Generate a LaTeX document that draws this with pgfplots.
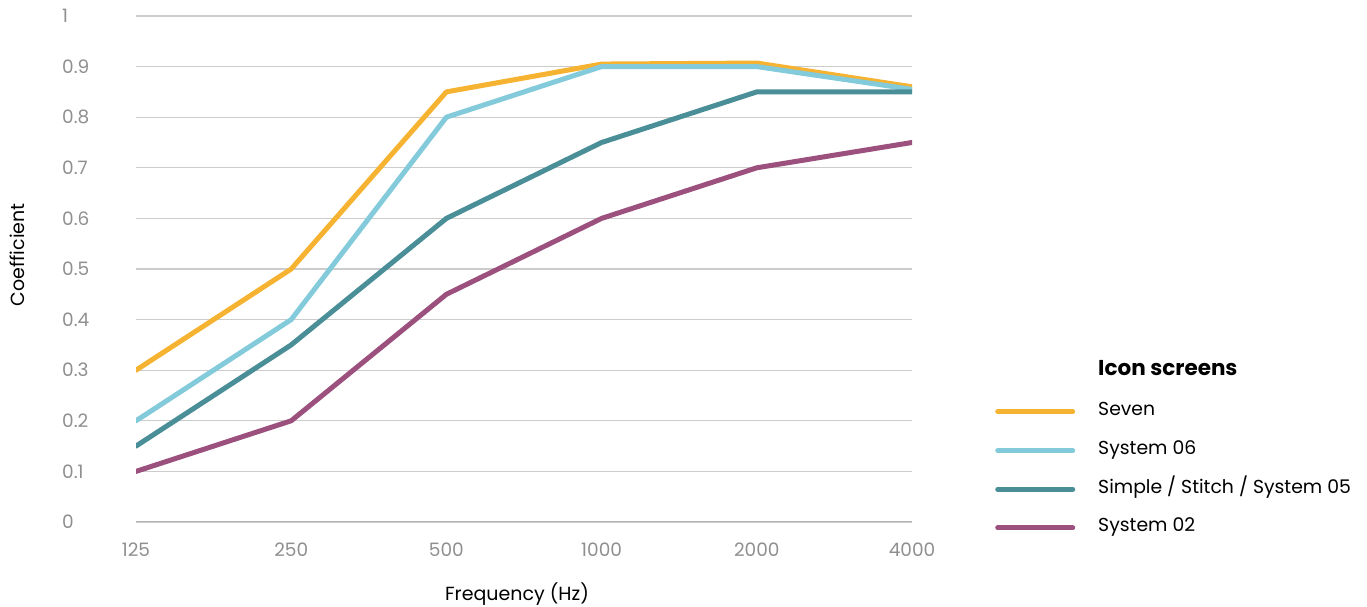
\documentclass[border=0pt]{standalone}
\usepackage{fontspec}
\setmainfont{Poppins}
\usepackage{pgfplots}
\pgfplotsset{compat=1.18}
\definecolor{seven}{HTML}{F6B331}
\definecolor{sys06}{HTML}{83CADB}
\definecolor{sys05}{HTML}{4A8E98}
\definecolor{sys02}{HTML}{9B507E}
\definecolor{ticktxt}{HTML}{8F8F8F}
\definecolor{gridc}{HTML}{CCCCCC}
\definecolor{baseln}{HTML}{AEB2B5}
\begin{document}
\begin{tikzpicture}[x=1pt,y=1pt]
\path[use as bounding box] (0,0) rectangle (1367,607);
\begin{axis}[
  at={(136pt,85pt)}, anchor=south west,
  scale only axis, width=776pt, height=506pt,
  xmin=0, xmax=5, ymin=0, ymax=1,
  axis line style={draw=none},
  major tick length=0pt,
  xtick={0,1,2,3,4,5},
  xticklabels={125,250,500,1000,2000,4000},
  ytick={0,0.1,0.2,0.3,0.4,0.5,0.6,0.7,0.8,0.9,1},
  yticklabels={0,0.1,0.2,0.3,0.4,0.5,0.6,0.7,0.8,0.9,1},
  ymajorgrids, grid style={gridc, line width=1.2pt},
  tick label style={font=\fontsize{18.5}{18.5}\selectfont, text=ticktxt},
  yticklabel style={anchor=west, inner sep=0pt, xshift=-74pt},
  xticklabel style={yshift=-17pt},
  xlabel={Frequency (Hz)}, ylabel={Coefficient},
  label style={font=\fontsize{19}{19}\selectfont},
  xlabel style={at={(axis description cs:0.491,-0.143)}, anchor=center},
  ylabel style={at={(axis description cs:-0.153,0.528)}, anchor=center},
  legend cell align=left,
  legend style={at={(rel axis cs:1.107,0.234)}, anchor=north west,
    draw=none, fill=none, inner sep=0pt, column sep=23pt, row sep=22.7pt,
    font=\fontsize{18.8}{18.8}\selectfont,
    nodes={inner sep=0pt, text height=12pt, text depth=4pt}},
  legend image code/.code={\draw[#1, line cap=round] (0pt,0pt) -- (75pt,0pt);},
  every axis plot/.append style={line width=5pt, line join=round, line cap=round},
]
\draw[baseln, line width=2.5pt] (axis cs:0,0) -- (axis cs:5,0);
\addplot[seven] coordinates {(0,0.3) (1,0.5) (2,0.85) (3,0.905) (4,0.907) (5,0.86)};
\addlegendentry{Seven}
\addplot[sys06] coordinates {(0,0.2) (1,0.4) (2,0.8) (3,0.9) (4,0.9) (5,0.855)};
\addlegendentry{System 06}
\addplot[sys05] coordinates {(0,0.15) (1,0.35) (2,0.6) (3,0.75) (4,0.85) (5,0.85)};
\addlegendentry{Simple / Stitch / System 05}
\addplot[sys02] coordinates {(0,0.1) (1,0.2) (2,0.45) (3,0.6) (4,0.7) (5,0.75)};
\addlegendentry{System 02}
\end{axis}
\node[anchor=west, inner sep=0pt, font=\bfseries\fontsize{21.5}{21.5}\selectfont] at (1098,239) {Icon screens};
\end{tikzpicture}
\end{document}
